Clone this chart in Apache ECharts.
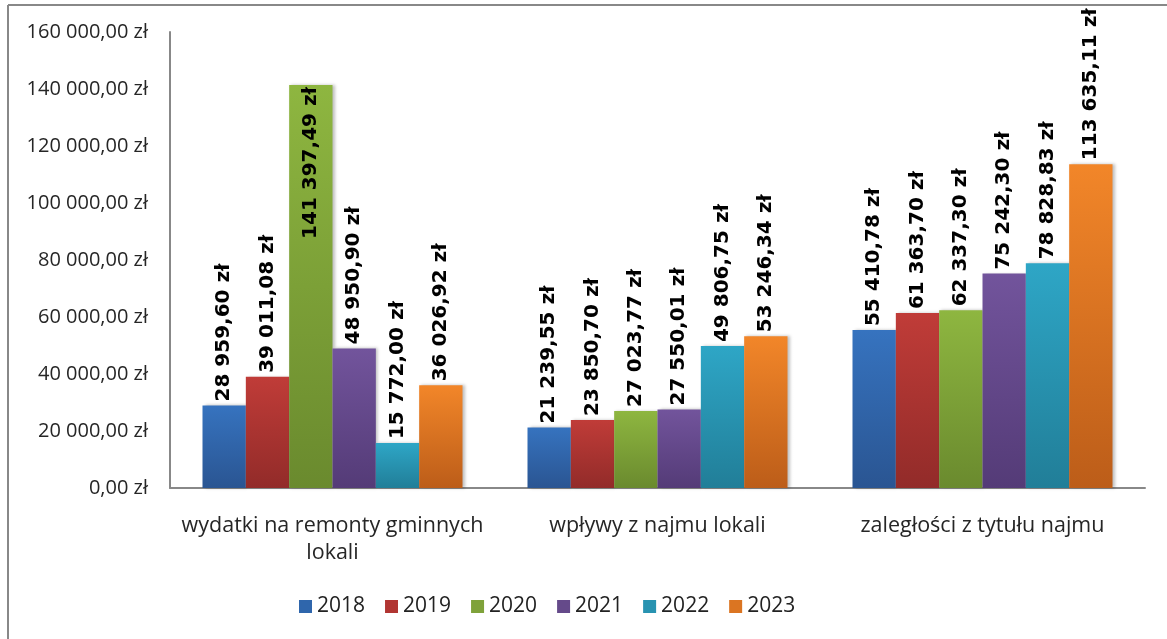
<!DOCTYPE html>
<html><head><meta charset="utf-8">
<script src="https://cdn.jsdelivr.net/npm/echarts@6/dist/echarts.min.js"></script>
<style>html,body{margin:0;padding:0;background:#fff}#c{width:1167px;height:639px}</style>
</head><body><div id="c"></div>
<script>
const categories = ['wydatki na remonty gminnych\nlokali', 'wpływy z najmu lokali', 'zaległości z tytułu najmu'];
const years = ['2018', '2019', '2020', '2021', '2022', '2023'];
const v2018 = [28959.60, 21239.55, 55410.78];
const v2019 = [39011.08, 23850.70, 61363.70];
const v2020 = [141397.49, 27023.77, 62337.30];
const v2021 = [48950.90, 27550.01, 75242.30];
const v2022 = [15772.00, 49806.75, 78828.83];
const v2023 = [36026.92, 53246.34, 113635.11];
const yTicks = [0, 20000, 40000, 60000, 80000, 100000, 120000, 140000, 160000];

const values = [v2018, v2019, v2020, v2021, v2022, v2023];
const colors = [
  ['#3673BF', '#2A5592'],
  ['#C03C38', '#922B29'],
  ['#8EB640', '#6A8A2E'],
  ['#72549C', '#543B77'],
  ['#2EA6C6', '#217E98'],
  ['#F28629', '#BC5D19']
];
const legendColors = ['#2F66AC', '#B13532', '#7FA23A', '#654A8A', '#2893B1', '#DB7522'];

function fmt(v) {
  const parts = v.toFixed(2).split('.');
  const intPart = parts[0].replace(/\B(?=(\d{3})+(?!\d))/g, ' ');
  return intPart + ',' + parts[1] + ' zł';
}

const yMax = yTicks[yTicks.length - 1];
const series = years.map((y, i) => ({
  name: y,
  type: 'bar',
  barGap: '0%',
  barCategoryGap: '20%',
  itemStyle: {
    color: new echarts.graphic.LinearGradient(0, 0, 0, 1, [
      { offset: 0, color: colors[i][0] },
      { offset: 1, color: colors[i][1] }
    ]),
    shadowColor: 'rgba(0,0,0,0.25)',
    shadowBlur: 3,
    shadowOffsetX: 2
  },
  label: {
    show: true,
    position: 'top',
    rotate: 90,
    align: 'left',
    verticalAlign: 'middle',
    distance: 4,
    fontFamily: 'DejaVu Sans',
    fontWeight: 'bold',
    fontSize: 20,
    color: '#000',
    formatter: p => fmt(p.value)
  },
  data: values[i].map(v => v > yMax * 0.8 ? {
    value: v,
    label: { position: 'insideTop', align: 'right', distance: 2 }
  } : v)
}));

const chart = echarts.init(document.getElementById('c'), null, { renderer: 'canvas' });
chart.setOption({
  backgroundColor: '#fff',
  animation: false,
  color: legendColors,
  grid: { left: 170, right: 22, top: 32, bottom: 151, containLabel: false },
  legend: {
    data: years.map((y, i) => ({ name: y, itemStyle: { color: legendColors[i] } })),
    bottom: 17,
    left: 294,
    icon: 'rect',
    itemWidth: 13,
    itemHeight: 13,
    itemGap: 20,
    textStyle: { fontFamily: 'Open Sans', fontSize: 21, color: '#222' }
  },
  xAxis: {
    type: 'category',
    data: categories,
    axisLine: { lineStyle: { color: '#888', width: 2 } },
    axisTick: { show: false },
    axisLabel: { fontFamily: 'Open Sans', fontSize: 21.5, color: '#262626', margin: 24, lineHeight: 27, interval: 0 }
  },
  yAxis: {
    type: 'value',
    min: 0,
    max: yMax,
    interval: 20000,
    splitLine: { show: false },
    axisTick: { show: false },
    axisLine: { show: true, lineStyle: { color: '#888', width: 2 } },
    axisLabel: { fontFamily: 'Open Sans', fontSize: 20, color: '#262626', margin: 22, formatter: v => fmt(v) }
  },
  graphic: [
    { type: 'line', shape: { x1: 8, y1: 5, x2: 1167, y2: 5 }, style: { stroke: '#888', lineWidth: 2 } },
    { type: 'line', shape: { x1: 8, y1: 5, x2: 8, y2: 639 }, style: { stroke: '#888', lineWidth: 2 } }
  ],
  series: series
});
</script></body></html>
